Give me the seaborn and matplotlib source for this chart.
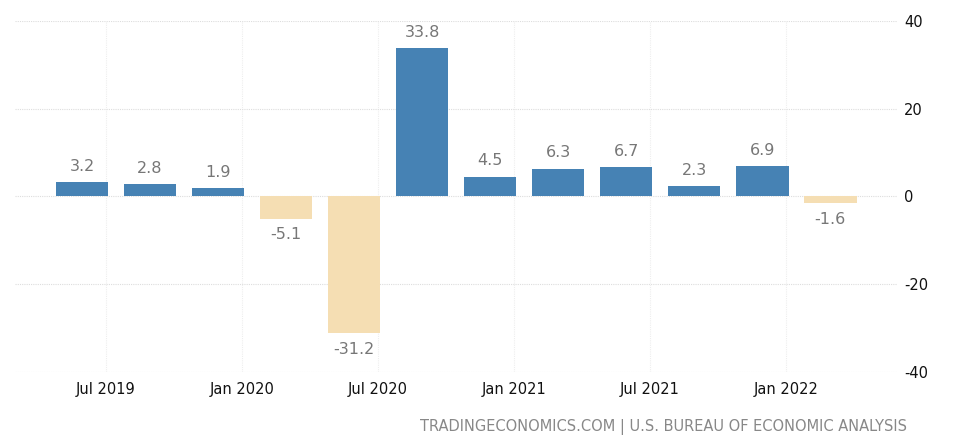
import pandas as pd
import matplotlib
matplotlib.use("Agg")
import matplotlib.pyplot as plt
import seaborn as sns

# Quarterly GDP growth (annualized), Q2 2019 .. Q1 2022
quarters = ["2019Q2", "2019Q3", "2019Q4", "2020Q1", "2020Q2", "2020Q3",
            "2020Q4", "2021Q1", "2021Q2", "2021Q3", "2021Q4", "2022Q1"]
growth = [3.2, 2.8, 1.9, -5.1, -31.2, 33.8, 4.5, 6.3, 6.7, 2.3, 6.9, -1.6]
tick_labels = ["Jul 2019", "Jan 2020", "Jul 2020", "Jan 2021", "Jul 2021", "Jan 2022"]
y_ticks = [-40, -20, 0, 20, 40]

blue = "#4682B4"
tan = "#F5DEB3"

df = pd.DataFrame({"quarter": quarters, "growth": growth})
colors = [blue if v >= 0 else tan for v in growth]

sns.set_style("white")
plt.rcParams["font.family"] = ["DejaVu Sans"]
plt.rcParams["axes.unicode_minus"] = False

fig = plt.figure(figsize=(9.6, 4.37), dpi=100)
ax = fig.add_axes([0.0156, 0.149, 0.9188, 0.803])

sns.barplot(data=df, x="quarter", y="growth", hue="quarter", palette=colors,
            legend=False, width=0.77, saturation=1, linewidth=0, ax=ax)

# value labels above / below each bar
for i, v in enumerate(growth):
    if v >= 0:
        ax.annotate(f"{v:.1f}", (i, v), xytext=(0, 6), textcoords="offset points",
                    ha="center", va="bottom", fontsize=11.5, color="#777777")
    else:
        ax.annotate(f"{v:.1f}", (i, v), xytext=(0, -6), textcoords="offset points",
                    ha="center", va="top", fontsize=11.5, color="#777777")

ax.set_ylim(-40, 40)
ax.set_xlim(-0.985, 11.98)
ax.set_yticks(y_ticks)
ax.yaxis.tick_right()
ax.tick_params(axis="y", length=0, pad=5, labelsize=10.5, labelcolor="#111111")

# month ticks fall a third of a slot after the bar they follow
ax.set_xticks([2 * k + 0.35 for k in range(len(tick_labels))])
ax.set_xticklabels(tick_labels)
ax.tick_params(axis="x", length=0, pad=7, labelsize=10.5, labelcolor="#111111")
ax.set_xlabel("")
ax.set_ylabel("")

ax.grid(True, axis="y", color="#dddddd", linestyle=(0, (1, 1)), linewidth=0.8)
ax.grid(True, axis="x", color="#eeeeee", linestyle=(0, (1, 1)), linewidth=0.8)
ax.set_axisbelow(True)
sns.despine(ax=ax, left=True, bottom=True, right=True, top=True)

fig.text(0.945, 0.005, "TRADINGECONOMICS.COM | U.S. BUREAU OF ECONOMIC ANALYSIS",
         ha="right", va="bottom", fontsize=10.5, color="#888888")

fig.savefig("out.png", dpi=100)
